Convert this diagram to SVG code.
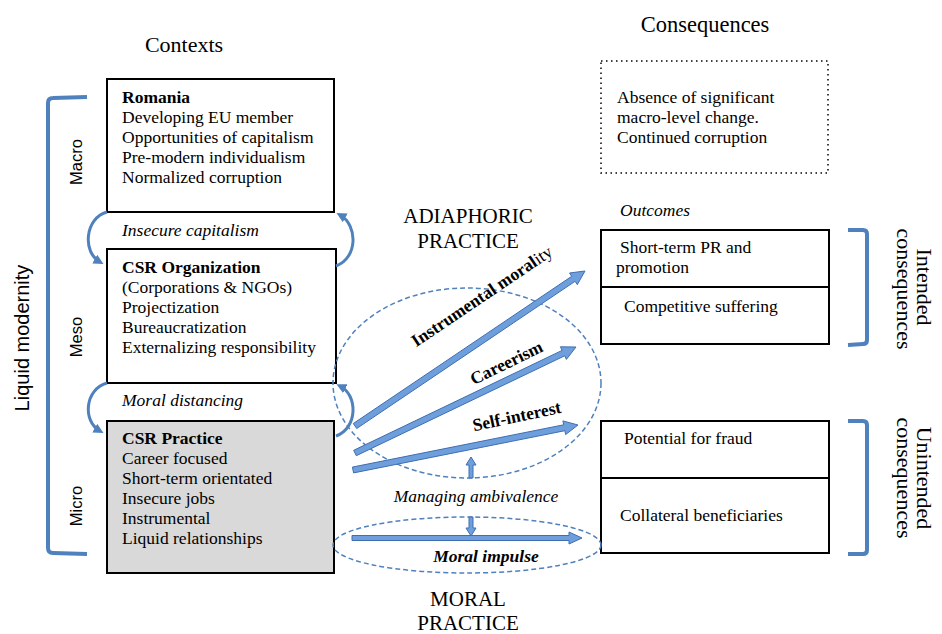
<svg xmlns="http://www.w3.org/2000/svg" width="942" height="634" viewBox="0 0 942 634">
<defs>
<marker id="ah" markerWidth="10" markerHeight="10" refX="6" refY="5" orient="auto" markerUnits="userSpaceOnUse">
<path d="M0,0 L10,5 L0,10 Z" fill="#4f81bd"/>
</marker>
<style>
.t{font-family:"Liberation Serif","Times New Roman",serif;font-size:17.5px;fill:#000}
.b{font-weight:bold}
.i{font-style:italic}
.h{font-family:"Liberation Serif","Times New Roman",serif;fill:#000}
.s{font-family:"Liberation Sans",Arial,sans-serif;fill:#000}
.box{fill:#fff;stroke:#000;stroke-width:2}
.gray{fill:#d9d9d9}
.dot{fill:none;stroke:#000;stroke-width:1.5;stroke-dasharray:1.5 3.5}
.br{fill:none;stroke:#4f81bd;stroke-width:4;stroke-linejoin:round}
.arc{fill:none;stroke:#4f81bd;stroke-width:3;marker-end:url(#ah)}
.ell{fill:none;stroke:#4f81bd;stroke-width:1.5;stroke-dasharray:5 3}
.arr{fill:#6e9fdc;stroke:#3f6fb0;stroke-width:1;stroke-linejoin:round}
</style>
</defs>
<rect width="942" height="634" fill="#fff"/>

<!-- headings -->
<text class="h" x="184" y="52" font-size="22" text-anchor="middle">Contexts</text>
<text class="h" x="705" y="32" font-size="22.5" text-anchor="middle">Consequences</text>
<text class="h" x="468" y="223" font-size="21" text-anchor="middle">ADIAPHORIC</text>
<text class="h" x="468" y="248" font-size="21" text-anchor="middle">PRACTICE</text>
<text class="h" x="468" y="606" font-size="21" text-anchor="middle">MORAL</text>
<text class="h" x="468" y="630" font-size="21" text-anchor="middle">PRACTICE</text>

<!-- liquid modernity bracket -->
<g id="liquid-modernity">
<path class="br" d="M87,97 L53,98 Q48,98 48,103 L48,548 Q48,553 53,553 L87,554"/>
<text class="s" transform="translate(29,338) rotate(-90)" font-size="20" text-anchor="middle">Liquid modernity</text>
<text class="s" transform="translate(82,162) rotate(-90)" font-size="16.5" text-anchor="middle">Macro</text>
<text class="s" transform="translate(82,337) rotate(-90)" font-size="16.5" text-anchor="middle">Meso</text>
<text class="s" transform="translate(82,506) rotate(-90)" font-size="16.5" text-anchor="middle">Micro</text>
</g>

<g id="romania">
<rect class="box" x="107" y="79" width="227" height="133"/>
<text class="t" x="122" y="103"><tspan class="b">Romania</tspan><tspan x="122" dy="20">Developing EU member</tspan><tspan x="122" dy="20">Opportunities of capitalism</tspan><tspan x="122" dy="20">Pre-modern individualism</tspan><tspan x="122" dy="20">Normalized corruption</tspan></text>
</g>

<text id="insecure-capitalism" class="t i" x="122" y="236">Insecure capitalism</text>

<g id="csr-organization">
<rect class="box" x="107" y="249" width="229" height="134"/>
<text class="t" x="122" y="273"><tspan class="b">CSR Organization</tspan><tspan x="122" dy="20">(Corporations &amp; NGOs)</tspan><tspan x="122" dy="20">Projectization</tspan><tspan x="122" dy="20">Bureaucratization</tspan><tspan x="122" dy="20">Externalizing responsibility</tspan></text>
</g>

<text id="moral-distancing" class="t i" x="122" y="406">Moral distancing</text>

<g id="csr-practice">
<rect class="box gray" x="107" y="421" width="227" height="152"/>
<text class="t" x="122" y="444"><tspan class="b">CSR Practice</tspan><tspan x="122" dy="20">Career focused</tspan><tspan x="122" dy="20">Short-term orientated</tspan><tspan x="122" dy="20">Insecure jobs</tspan><tspan x="122" dy="20">Instrumental</tspan><tspan x="122" dy="20">Liquid relationships</tspan></text>
</g>

<g id="macro-consequence">
<rect class="dot" x="601" y="61" width="227" height="112"/>
<text class="t" x="617" y="103"><tspan>Absence of significant</tspan><tspan x="617" dy="20">macro-level change.</tspan><tspan x="617" dy="20">Continued corruption</tspan></text>
</g>

<text id="outcomes" class="t i" x="620" y="216">Outcomes</text>

<g id="short-term-pr">
<rect class="box" x="601" y="230" width="228" height="57"/>
<text class="t" x="620" y="253"><tspan>Short-term PR and</tspan><tspan x="616" dy="20">promotion</tspan></text>
</g>
<g id="competitive-suffering">
<rect class="box" x="601" y="287" width="228" height="57"/>
<text class="t" x="624" y="312">Competitive suffering</text>
</g>
<g id="intended">
<path class="br" d="M848,230 L863,230 Q867,230 867,234 L867,340 Q867,344 863,344 L848,345"/>
<text class="h" transform="translate(917,287) rotate(90)" font-size="22" text-anchor="middle">Intended</text>
<text class="h" transform="translate(897,289) rotate(90)" font-size="22" text-anchor="middle">consequences</text>
</g>

<g id="potential-fraud">
<rect class="box" x="601" y="421" width="228" height="57"/>
<text class="t" x="624" y="444">Potential for fraud</text>
</g>
<g id="collateral-beneficiaries">
<rect class="box" x="601" y="478" width="228" height="75"/>
<text class="t" x="620" y="521">Collateral beneficiaries</text>
</g>
<g id="unintended">
<path class="br" d="M848,421 L863,421 Q867,421 867,425 L867,550 Q867,554 863,554 L848,554"/>
<text class="h" transform="translate(917,478) rotate(90)" font-size="22" text-anchor="middle">Unintended</text>
<text class="h" transform="translate(897,478) rotate(90)" font-size="22" text-anchor="middle">consequences</text>
</g>

<g id="adiaphoric-ellipse"><ellipse class="ell" cx="467" cy="383" rx="134" ry="95"/></g>
<g id="moral-ellipse"><ellipse class="ell" cx="467" cy="545" rx="134" ry="28"/></g>

<g id="connectors">
<path class="arc" d="M107,212 C85,218 82,252 100,262"/>
<path class="arc" d="M336,266 C358,258 358,225 340,215"/>
<path class="arc" d="M107,383 C85,389 82,421 100,431"/>
<path class="arc" d="M336,436 C358,428 358,395 340,386"/>
<polygon class="arr" points="356.7,428.5 575.1,281.3 577.3,284.6 585,271 569.5,273 571.7,276.3 353.3,423.5"/>
<polygon class="arr" points="356.3,455.7 564.7,355.8 566.4,359.4 576,347 560.4,346.8 562.1,350.4 353.7,450.3"/>
<polygon class="arr" points="353.6,472.9 564.9,430.7 565.6,434.6 578,425 562.9,420.9 563.7,424.8 352.4,467.1"/>
<polygon class="arr" points="352,535.5 569,535.5 569,532 582,538 569,544 569,540.5 352,540.5"/>
<polygon class="arr" points="469,478 469,465 466,465 471,457 476,465 473,465 473,478"/>
<polygon class="arr" points="469,517 469,528 466,528 471,536 476,528 473,528 473,517"/>
</g>

<text class="t b" transform="translate(485,301) rotate(-34)" font-size="16.5" text-anchor="middle">Instrumental moral<tspan font-weight="normal">ity</tspan></text>
<text class="t b" transform="translate(509,368) rotate(-26)" font-size="16.5" text-anchor="middle">Careerism</text>
<text class="t b" transform="translate(518,422) rotate(-12)" font-size="16.5" text-anchor="middle">Self-interest</text>
<text class="t i" x="476" y="502" text-anchor="middle">Managing ambivalence</text>
<text class="t b i" x="486" y="562" font-size="16.5" text-anchor="middle">Moral impulse</text>
</svg>
